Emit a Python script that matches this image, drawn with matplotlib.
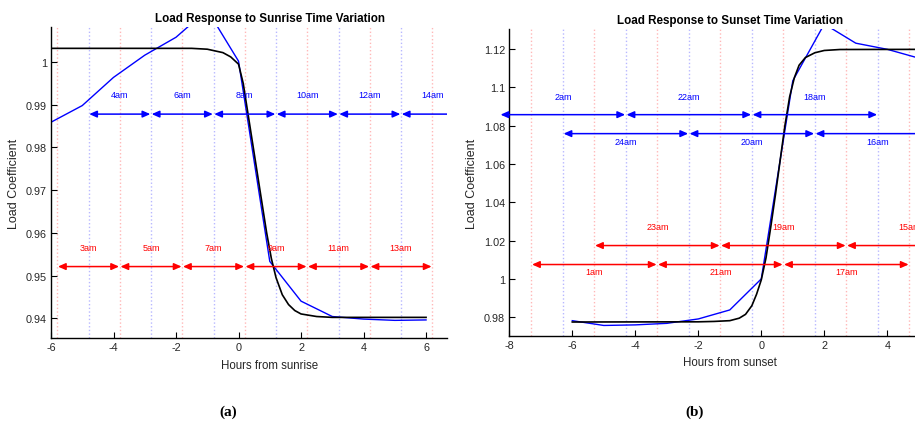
import matplotlib
matplotlib.use("Agg")
import matplotlib.pyplot as plt
import numpy as np

plt.rcParams['font.family'] = ['Liberation Sans', 'DejaVu Sans']
plt.rcParams['axes.unicode_minus'] = False

# ---------------- data: sunrise panel ----------------
rise_black_x = [-6, -1.5, -1.0, -0.5, -0.25, 0.0, 0.15, 0.3, 0.45, 0.6, 0.75, 0.9,
                1.05, 1.2, 1.4, 1.6, 1.8, 2.0, 2.5, 3.0, 6.0]
rise_black_y = [1.0032, 1.0032, 1.0030, 1.0022, 1.0012, 0.9995, 0.9950, 0.9880, 0.9810,
                0.9740, 0.9670, 0.9600, 0.9540, 0.9495, 0.9455, 0.9432, 0.9418, 0.9410,
                0.9404, 0.9402, 0.9402]
rise_blue_x = [-6, -5, -4, -3, -2, -1, 0, 1, 2, 3, 4, 5, 6]
rise_blue_y = [0.9859, 0.9898, 0.9964, 1.0016, 1.0058, 1.0122, 1.0002, 0.9533, 0.9440,
               0.9404, 0.9398, 0.9395, 0.9396]
rise_blue_bounds = [-4.8, -2.8, -0.8, 1.2, 3.2, 5.2, 7.2]
rise_blue_labels = ['4am', '6am', '8am', '10am', '12am', '14am']
rise_red_bounds = [-5.8, -3.8, -1.8, 0.2, 2.2, 4.2, 6.2]
rise_red_labels = ['3am', '5am', '7am', '9am', '11am', '13am']
rise_blue_row = 0.9878
rise_red_row = 0.9521
rise_yticks = [0.94, 0.95, 0.96, 0.97, 0.98, 0.99, 1.0]
rise_yticklabels = ['0.94', '0.95', '0.96', '0.97', '0.98', '0.99', '1']
rise_xticks = [-6, -4, -2, 0, 2, 4, 6]

# ---------------- data: sunset panel ----------------
set_black_x = [-6, -2, -1.5, -1.0, -0.7, -0.5, -0.3, -0.15, 0.0, 0.15, 0.3, 0.45, 0.6,
               0.75, 0.9, 1.05, 1.2, 1.4, 1.7, 2.0, 2.5, 6.0]
set_black_y = [0.9775, 0.9776, 0.9778, 0.9782, 0.9795, 0.9815, 0.9860, 0.9920, 0.9995,
               1.0110, 1.0270, 1.0440, 1.0620, 1.0800, 1.0950, 1.1050, 1.1115, 1.1155,
               1.1180, 1.1192, 1.1197, 1.1198]
set_blue_x = [-6, -5, -4, -3, -2, -1, 0, 1, 2, 3, 4, 5, 6]
set_blue_y = [0.9782, 0.9757, 0.9760, 0.9768, 0.9791, 0.9838, 1.0000, 1.1034, 1.1330,
              1.1230, 1.1198, 1.1152, 1.1120]
set_blue1_bounds = [-8.3, -4.3, -0.3, 3.7]
set_blue1_labels = ['2am', '22am', '18am']
set_blue2_bounds = [-6.3, -2.3, 1.7, 5.7]
set_blue2_labels = ['24am', '20am', '16am']
set_red1_bounds = [-5.3, -1.3, 2.7, 6.7]
set_red1_labels = ['23am', '19am', '15am']
set_red2_bounds = [-7.3, -3.3, 0.7, 4.7]
set_red2_labels = ['1am', '21am', '17am']
set_blue1_row, set_blue2_row = 1.0857, 1.0758
set_red1_row, set_red2_row = 1.0174, 1.0075
set_red_vlines = [-7.3, -5.3, -3.3, -1.3, 0.7, 2.7, 4.7]
set_blue_vlines = [-6.3, -4.3, -2.3, -0.3, 1.7, 3.7]
set_yticks = [0.98, 1.0, 1.02, 1.04, 1.06, 1.08, 1.1, 1.12]
set_yticklabels = ['0.98', '1', '1.02', '1.04', '1.06', '1.08', '1.1', '1.12']
set_xticks = [-8, -6, -4, -2, 0, 2, 4]

W, H = 915, 427
fig = plt.figure(figsize=(W / 100, H / 100), dpi=100)

BLUE = '#0000ff'
RED = '#ff0000'
LBLUE = '#b8b8ff'
LRED = '#ffb8b8'
TXT = '#262626'


def px_axes(l, r, top, bottom):
    return fig.add_axes([l / W, 1 - bottom / H, (r - l) / W, (bottom - top) / H])


def style(ax):
    for s in ['top', 'right']:
        ax.spines[s].set_visible(False)
    for s in ['left', 'bottom']:
        ax.spines[s].set_linewidth(1.0)
    ax.tick_params(direction='in', length=4, width=0.8, labelsize=7.8,
                   labelcolor=TXT, pad=3)


def arrows(ax, bounds, y, color, clip):
    for a, b in zip(bounds[:-1], bounds[1:]):
        ann = ax.annotate('', xy=(b, y), xytext=(a, y),
                          arrowprops=dict(arrowstyle='<|-|>,head_length=0.45,head_width=0.2',
                                          color=color, lw=1.1, shrinkA=0.5, shrinkB=0.5,
                                          mutation_scale=10),
                          annotation_clip=False)
        if clip:
            ann.arrow_patch.set_clip_path(ax.patch)


def labels(ax, bounds, names, y, color, va):
    for a, b, n in zip(bounds[:-1], bounds[1:], names):
        ax.text((a + b) / 2, y, n, color=color, fontsize=6.5, ha='center', va=va,
                clip_on=False)


# ---------------- left panel ----------------
ax1 = px_axes(51, 447, 28, 339.3)
ax1.set_xlim(-6, 6.67)
ax1.set_ylim(0.9353, 1.0082)
for xv in rise_red_bounds:
    ax1.axvline(xv, color=LRED, ls=':', lw=1.0, zorder=0)
for xv in rise_blue_bounds[:-1]:
    ax1.axvline(xv, color=LBLUE, ls=':', lw=1.0, zorder=0)
ax1.plot(rise_blue_x, rise_blue_y, color=BLUE, lw=1.0)
ax1.plot(rise_black_x, rise_black_y, color='black', lw=1.2)
arrows(ax1, rise_blue_bounds, rise_blue_row, BLUE, True)
arrows(ax1, rise_red_bounds, rise_red_row, RED, True)
labels(ax1, rise_blue_bounds, rise_blue_labels, 0.9923, BLUE, 'center')
labels(ax1, rise_red_bounds, rise_red_labels, 0.9566, RED, 'center')
ax1.set_xticks(rise_xticks)
ax1.set_yticks(rise_yticks)
ax1.set_yticklabels(rise_yticklabels)
style(ax1)
ax1.set_ylabel('Load Coefficient', fontsize=9, color=TXT)
ax1.yaxis.set_label_coords((20 - 51) / 396, 0.5)

# ---------------- right panel ----------------
ax2 = px_axes(509.3, 915, 30, 337)
ax2.set_xlim(-8, 4.88)
ax2.set_ylim(0.9702, 1.1304)
for xv in set_red_vlines:
    ax2.axvline(xv, color=LRED, ls=':', lw=1.0, zorder=0)
for xv in set_blue_vlines:
    ax2.axvline(xv, color=LBLUE, ls=':', lw=1.0, zorder=0)
ax2.plot(set_blue_x, set_blue_y, color=BLUE, lw=1.0)
ax2.plot(set_black_x, set_black_y, color='black', lw=1.2)
arrows(ax2, set_blue1_bounds, set_blue1_row, BLUE, False)
arrows(ax2, set_blue2_bounds, set_blue2_row, BLUE, False)
arrows(ax2, set_red1_bounds, set_red1_row, RED, False)
arrows(ax2, set_red2_bounds, set_red2_row, RED, False)
labels(ax2, set_blue1_bounds, set_blue1_labels, 1.0951, BLUE, 'center')
labels(ax2, set_blue2_bounds, set_blue2_labels, 1.0716, BLUE, 'center')
labels(ax2, set_red1_bounds, set_red1_labels, 1.0273, RED, 'center')
labels(ax2, set_red2_bounds, set_red2_labels, 1.0038, RED, 'center')
ax2.set_xticks(set_xticks)
ax2.set_yticks(set_yticks)
ax2.set_yticklabels(set_yticklabels)
style(ax2)
ax2.set_ylabel('Load Coefficient', fontsize=9, color=TXT)
ax2.yaxis.set_label_coords((478 - 509.3) / 405.7, 0.5)

# ---------------- titles, x labels, captions ----------------
fig.text(270 / W, 1 - 19 / H, 'Load Response to Sunrise Time Variation',
         ha='center', va='center', fontsize=8.4, fontweight='bold')
fig.text(730 / W, 1 - 21 / H, 'Load Response to Sunset Time Variation',
         ha='center', va='center', fontsize=8.4, fontweight='bold')
fig.text(270 / W, 1 - 365.7 / H, 'Hours from sunrise', ha='center', va='center',
         fontsize=8.3, color=TXT)
fig.text(730 / W, 1 - 363 / H, 'Hours from sunset', ha='center', va='center',
         fontsize=8.3, color=TXT)
fig.text(228 / W, 1 - 412 / H, '(a)', ha='center', va='center', fontsize=11,
         fontweight='bold', family=['Liberation Serif', 'DejaVu Serif'])
fig.text(695 / W, 1 - 412 / H, '(b)', ha='center', va='center', fontsize=11,
         fontweight='bold', family=['Liberation Serif', 'DejaVu Serif'])

fig.savefig('out.png', dpi=100)
